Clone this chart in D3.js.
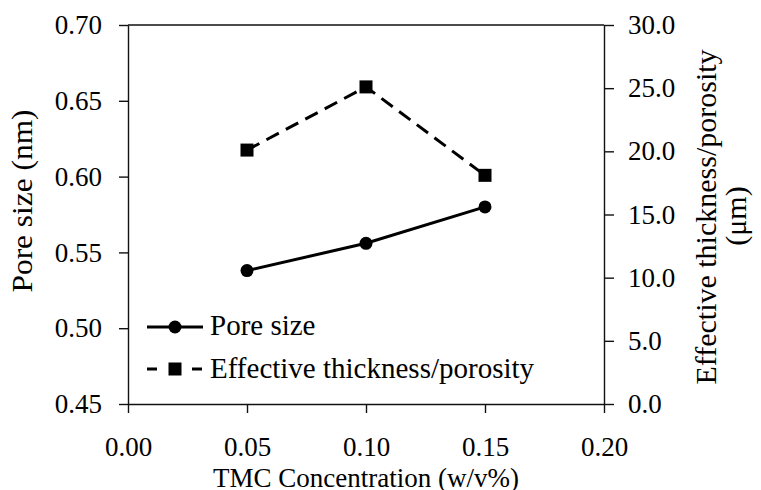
<!DOCTYPE html>
<html>
<head>
<meta charset="utf-8">
<script src="https://cdn.jsdelivr.net/npm/d3@7"></script>
</head>
<body style="margin:0">
<svg width="761" height="490"></svg>
<script>
// data
var concentration = [0.05, 0.10, 0.15];
var poreSize = [0.538, 0.556, 0.580];
var thickness = [20.1, 25.1, 18.1];

var xTicks = [0, 0.05, 0.10, 0.15, 0.20];
var leftTicks = [0.45, 0.50, 0.55, 0.60, 0.65, 0.70];
var rightTicks = [0, 5, 10, 15, 20, 25, 30];

var FONT = '"Liberation Serif"';

var svg = d3.select("svg").style("font-family", FONT),
  plotL = 128, plotR = 604, plotT = 25, plotB = 404;

var x = d3.scaleLinear().domain([0, 0.2]).range([plotL, plotR]);
var yL = d3.scaleLinear().domain([0.45, 0.70]).range([plotB, plotT]);
var yR = d3.scaleLinear().domain([0, 30]).range([plotB, plotT]);

function styleAxis(g) {
  g.attr("font-family", null).attr("font-size", null);
  g.selectAll("path, line").attr("stroke", "#111").attr("stroke-width", 1.4);
  g.selectAll("text")
    .style("font-family", FONT)
    .attr("font-size", 27)
    .attr("fill", "#000");
}

// top border
svg.append("line")
  .attr("x1", plotL).attr("x2", plotR)
  .attr("y1", plotT).attr("y2", plotT)
  .attr("stroke", "#111").attr("stroke-width", 1.4);

svg.append("g")
  .attr("transform", "translate(" + plotL + ",0)")
  .call(d3.axisLeft(yL).tickValues(leftTicks).tickFormat(d3.format(".2f"))
    .tickSize(9).tickSizeOuter(0).tickPadding(17))
  .call(styleAxis);

svg.append("g")
  .attr("transform", "translate(" + plotR + ",0)")
  .call(d3.axisRight(yR).tickValues(rightTicks).tickFormat(d3.format(".1f"))
    .tickSize(10).tickSizeOuter(0).tickPadding(14))
  .call(styleAxis);

svg.append("g")
  .attr("transform", "translate(0," + plotB + ")")
  .call(d3.axisBottom(x).tickValues(xTicks).tickFormat(d3.format(".2f"))
    .tickSize(9).tickSizeOuter(0).tickPadding(24))
  .call(styleAxis);

// axis titles
function label(t, size) {
  return svg.append("text")
    .style("font-family", FONT)
    .attr("font-size", size)
    .attr("text-anchor", "middle")
    .text(t);
}

label("TMC Concentration (w/v%)", 27)
  .attr("x", 366).attr("y", 487);

label("Pore size (nm)", 30)
  .attr("transform", "translate(32,201) rotate(-90)")
  .attr("textLength", 183).attr("lengthAdjust", "spacingAndGlyphs");

label("Effective thickness/porosity", 30)
  .attr("transform", "translate(716,217) rotate(-90)");

label("(μm)", 30)
  .attr("transform", "translate(746,216) rotate(-90)");

// series
var pts1 = concentration.map(function (c, i) { return [x(c), yL(poreSize[i])]; });
var pts2 = concentration.map(function (c, i) { return [x(c), yR(thickness[i])]; });

var line = d3.line();

svg.append("path")
  .attr("d", line(pts2))
  .attr("fill", "none")
  .attr("stroke", "#000")
  .attr("stroke-width", 3)
  .attr("stroke-dasharray", "14,8");

svg.append("path")
  .attr("d", line(pts1))
  .attr("fill", "none")
  .attr("stroke", "#000")
  .attr("stroke-width", 3);

svg.selectAll(".dot")
  .data(pts1)
  .enter().append("circle")
  .attr("cx", function (d) { return d[0]; })
  .attr("cy", function (d) { return d[1]; })
  .attr("r", 6.5)
  .attr("fill", "#000");

svg.selectAll(".sq")
  .data(pts2)
  .enter().append("rect")
  .attr("x", function (d) { return d[0] - 6.5; })
  .attr("y", function (d) { return d[1] - 6.5; })
  .attr("width", 13).attr("height", 13)
  .attr("fill", "#000");

// legend
var lg = svg.append("g");
lg.append("line").attr("x1", 147).attr("x2", 203).attr("y1", 327).attr("y2", 327)
  .attr("stroke", "#000").attr("stroke-width", 3);
lg.append("circle").attr("cx", 175).attr("cy", 327).attr("r", 6.5).attr("fill", "#000");
lg.append("text").attr("x", 210).attr("y", 335)
  .style("font-family", FONT).attr("font-size", 29)
  .text("Pore size");

lg.append("line").attr("x1", 147).attr("x2", 203).attr("y1", 369).attr("y2", 369)
  .attr("stroke", "#000").attr("stroke-width", 3).attr("stroke-dasharray", "10,35");
lg.append("rect").attr("x", 168.5).attr("y", 362.5).attr("width", 13).attr("height", 13).attr("fill", "#000");
lg.append("text").attr("x", 210).attr("y", 378)
  .style("font-family", FONT).attr("font-size", 29)
  .text("Effective thickness/porosity");
</script>
</body>
</html>
